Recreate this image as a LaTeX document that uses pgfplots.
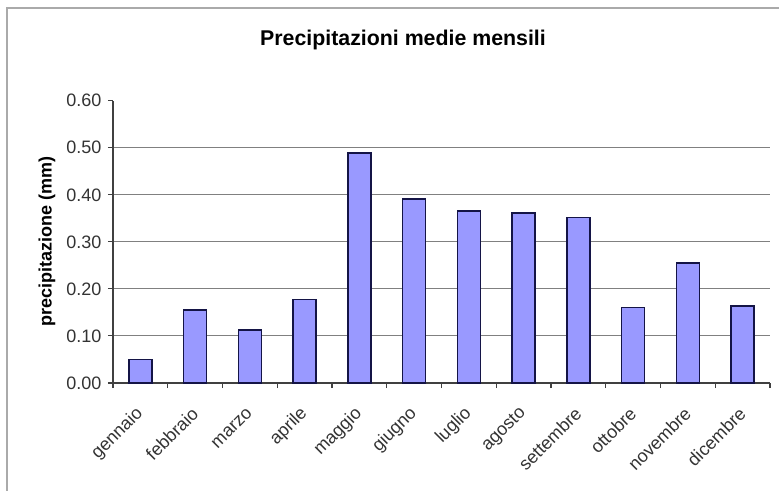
\documentclass[border=0pt]{standalone}
\usepackage{fontspec}
\setmainfont{Liberation Sans}
\usepackage{pgfplots}
\pgfplotsset{compat=1.18}
\definecolor{barfill}{RGB}{153,153,255}
\definecolor{baredge}{RGB}{20,20,70}
\definecolor{gridgray}{RGB}{128,128,128}
\definecolor{framegray}{RGB}{170,170,170}

\begin{document}
\begin{tikzpicture}
% picture is 779x490 px at 0.75pt/px; axis origin sits at (113,383) px
\useasboundingbox (-84.75pt,-80.25pt) rectangle (499.5pt,287.25pt);
\draw[framegray, line width=1.1pt] (-79.5pt,-90pt) -- (-79.5pt,281.25pt) -- (520pt,281.25pt);
\node[font=\fontsize{16}{18}\selectfont\bfseries, anchor=base] at (217.5pt,253pt)
  {Precipitazioni medie mensili};
\begin{axis}[
  at={(0,0)}, anchor=south west,
  scale only axis,
  width=492.75pt, height=211.7pt,
  ybar, bar width=17.25pt,
  xmin=-0.5, xmax=11.5,
  ymin=0, ymax=0.6,
  axis x line=bottom, axis y line=left,
  axis line style={-, black!75, line width=0.8pt},
  tick align=outside,
  major tick length=3.75pt,
  minor tick length=3.75pt,
  tick style={black!75, line width=0.8pt},
  xtick={0,...,11},
  xticklabels={gennaio,febbraio,marzo,aprile,maggio,giugno,luglio,agosto,settembre,ottobre,novembre,dicembre},
  major x tick style={draw=none},
  minor xtick={-0.5,0.5,...,11.5},
  ytick={0,0.1,0.2,0.3,0.4,0.5},
  extra y ticks={0.6},
  extra y tick labels={0.60},
  extra y tick style={grid=none},
  ymajorgrids,
  grid style={gridgray, line width=0.8pt},
  /pgf/number format/assume math mode=true,
  /pgf/number format/fixed,
  /pgf/number format/fixed zerofill,
  /pgf/number format/precision=2,
  tick label style={font=\fontsize{13.5}{15}\selectfont, text=black!80},
  yticklabel style={xshift=-1.5pt},
  xticklabel style={rotate=45, anchor=east, inner sep=0pt, yshift=-12pt, xshift=-12pt},
  ylabel={precipitazione (mm)},
  ylabel style={at={(axis description cs:-0.1005,0.5)}, anchor=center,
    font=\fontsize{13.5}{15}\selectfont\bfseries},
]
\addplot[fill=barfill, draw=baredge, line width=1.1pt] coordinates {
  (0,0.050) (1,0.155) (2,0.113) (3,0.177) (4,0.489) (5,0.391)
  (6,0.366) (7,0.361) (8,0.352) (9,0.160) (10,0.255) (11,0.164)
};
\end{axis}
\end{tikzpicture}
\end{document}
